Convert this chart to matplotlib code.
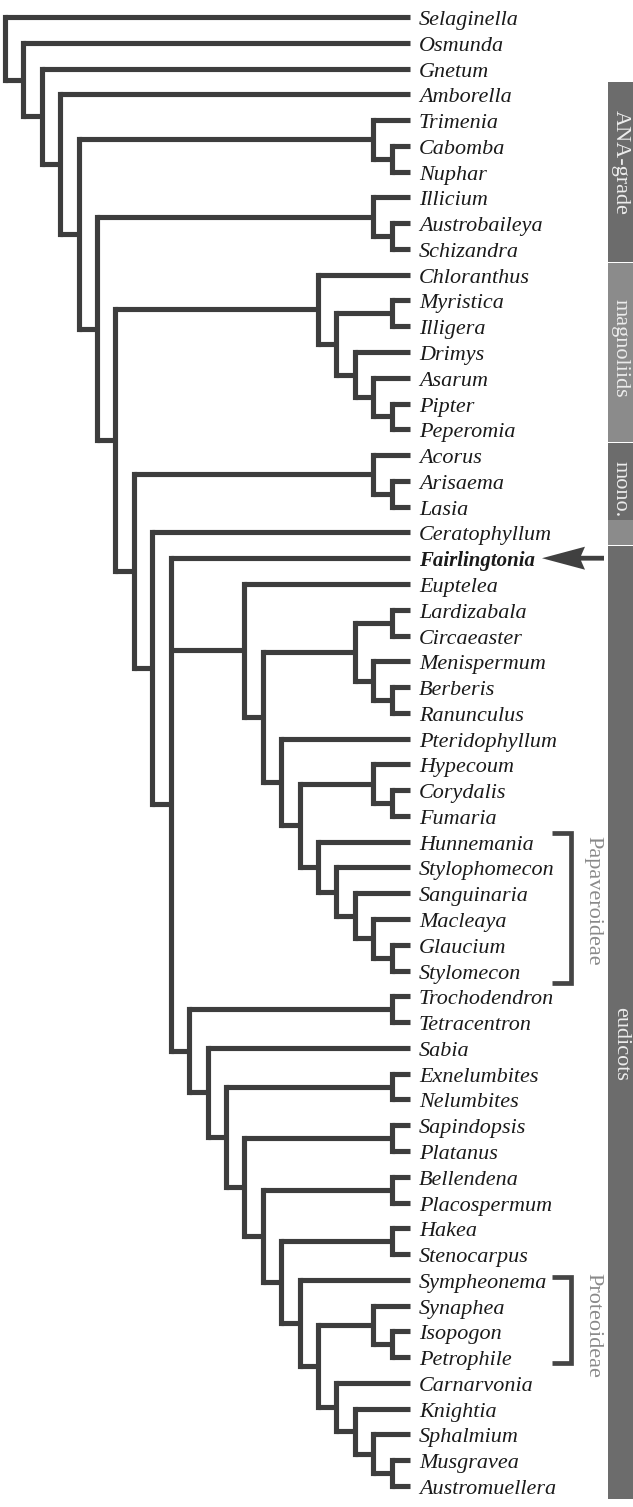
import matplotlib
matplotlib.use("Agg")
import matplotlib.pyplot as plt
from matplotlib.patches import Rectangle, Polygon

# ---------------- data ----------------
TREE = ("(Selaginella,(Osmunda,(Gnetum,(Amborella,((Trimenia,(Cabomba,Nuphar)),"
        "((Illicium,(Austrobaileya,Schizandra)),((Chloranthus,((Myristica,Illigera),"
        "(Drimys,(Asarum,(Pipter,Peperomia))))),((Acorus,(Arisaema,Lasia)),"
        "(Ceratophyllum,(Fairlingtonia,(Euptelea,(((Lardizabala,Circaeaster),"
        "(Menispermum,(Berberis,Ranunculus))),(Pteridophyllum,((Hypecoum,(Corydalis,Fumaria)),"
        "(Hunnemania,(Stylophomecon,(Sanguinaria,(Macleaya,(Glaucium,Stylomecon))))))))),"
        "((Trochodendron,Tetracentron),(Sabia,((Exnelumbites,Nelumbites),((Sapindopsis,Platanus),"
        "((Bellendena,Placospermum),((Hakea,Stenocarpus),(Sympheonema,((Synaphea,(Isopogon,Petrophile)),"
        "(Carnarvonia,(Knightia,(Sphalmium,(Musgravea,Austromuellera)))))))))))))))))))))));")
HIGHLIGHT = "Fairlingtonia"

# side bar groups: label, first taxon, last taxon
BAR_GROUPS = [("ANA-grade", "Amborella", "Schizandra"),
              ("magnoliids", "Chloranthus", "Peperomia"),
              ("mono.", "Acorus", "Lasia"),
              ("", "Ceratophyllum", "Ceratophyllum"),
              ("eudicots", "Fairlingtonia", "Austromuellera")]
BRACKETS = [("Papaveroideae", "Hunnemania", "Stylomecon"),
            ("Proteoideae", "Sympheonema", "Petrophile")]

# ---------------- parse tree ----------------
def parse(s):
    pos = 0
    def node():
        nonlocal pos
        if s[pos] == "(":
            pos += 1
            kids = [node()]
            while s[pos] == ",":
                pos += 1
                kids.append(node())
            pos += 1  # ')'
            return kids
        start = pos
        while s[pos] not in ",();":
            pos += 1
        return s[start:pos]
    return node()

tree = parse(TREE)
leaves = []
def collect(n):
    if isinstance(n, str):
        leaves.append(n)
    else:
        for c in n:
            collect(c)
collect(tree)
idx = {name: i for i, name in enumerate(leaves)}

def height(n):
    if isinstance(n, str):
        return 0
    return 1 + max(height(c) for c in n)
HROOT = height(tree)

# ---------------- layout (pixel based) ----------------
W, H = 633, 1507
X0_PX, TIP_PX = 5, 410
Y0_PX, Y1_PX = 17, 1486
sx = (TIP_PX - X0_PX) / HROOT
sy = (Y1_PX - Y0_PX) / (len(leaves) - 1)
def px(v):  # pixel x -> data x
    return (v - X0_PX) / sx
def py(v):  # pixel offset -> data y units
    return v / sy

fig = plt.figure(figsize=(W / 100, H / 100), dpi=100)
ax = fig.add_axes([0, 0, 1, 1])
ax.set_xlim(-X0_PX / sx, (W - X0_PX) / sx)
ax.set_ylim((H - Y0_PX) / sy, -Y0_PX / sy)
ax.axis("off")

LC = "#3d3d3d"
LW = 3.7

def draw(n):
    """returns (x, y) of node"""
    if isinstance(n, str):
        return HROOT, idx[n]
    pts = [draw(c) for c in n]
    x = HROOT - height(n)
    y = (pts[0][1] + pts[-1][1]) / 2
    ax.plot([x, x], [pts[0][1], pts[-1][1]], color=LC, lw=LW,
            solid_capstyle="projecting", zorder=2)
    for cx, cy in pts:
        ax.plot([x, cx], [cy, cy], color=LC, lw=LW, solid_capstyle="butt", zorder=2)
    return x, y

draw(tree)

FS = 15.9
for name in leaves:
    bold = name == HIGHLIGHT
    ax.text(px(419), idx[name] + py(8), name, fontsize=15.0 if bold else FS,
            family="Liberation Serif", style="italic",
            weight="bold" if bold else "normal",
            va="baseline", ha="left", color="#1a1a1a")

# arrow pointing at highlighted taxon
yf = idx[HIGHLIGHT]
shaft_h = py(2.4)
head_h = py(11.5)
pts = [(px(542), yf), (px(585), yf - head_h), (px(581), yf - shaft_h), (px(604), yf - shaft_h),
       (px(604), yf + shaft_h), (px(581), yf + shaft_h), (px(585), yf + head_h)]
ax.add_patch(Polygon(pts, closed=True, color="#404040", lw=0, zorder=3))

# side bar
bar_cols = ["#6c6c6c", "#8b8b8b", "#6c6c6c", "#8b8b8b", "#6c6c6c"]
label_pos = {"ANA-grade": 162, "magnoliids": 348, "mono.": 489, "eudicots": 1044}
for (lab, a, b), col in zip(BAR_GROUPS, bar_cols):
    y0 = idx[a] - 0.47
    y1 = idx[b] + 0.5
    ax.add_patch(Rectangle((px(608), y0), px(640) - px(608), y1 - y0, color=col, lw=0))
    if lab:
        yc = (label_pos[lab] - Y0_PX) / sy
        ax.text(px(620.5), yc, lab, rotation=270, fontsize=16, family="Liberation Serif",
                color="#ececec", ha="center", va="center")

# brackets
bpos = {"Papaveroideae": (833, 983, 901), "Proteoideae": (1277, 1363, 1325)}
for lab, a, b in BRACKETS:
    t, bt, c = bpos[lab]
    yt = (t - Y0_PX) / sy
    yb = (bt - Y0_PX) / sy
    ax.plot([px(552), px(570.5), px(570.5), px(552)], [yt, yt, yb, yb], color="#454545",
            lw=3.4, solid_joinstyle="miter", solid_capstyle="butt")
    ax.text(px(593), (c - Y0_PX) / sy, lab, rotation=270, fontsize=16,
            family="Liberation Serif", color="#8a8a8a", ha="center", va="center")

fig.savefig("out.png", dpi=100)
